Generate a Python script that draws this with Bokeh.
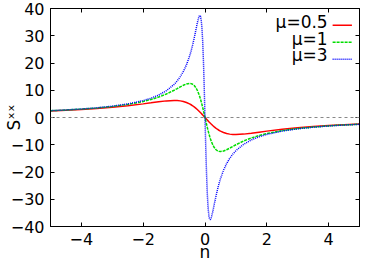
from bokeh.plotting import figure
from bokeh.models import Range1d, FixedTicker, LinearAxis, Span, Label, Arrow
from bokeh.embed import file_html
from bokeh.resources import INLINE

# ---- data ----
n = [-5, -4.5, -4, -3.5, -3, -2.5, -2, -1.75, -1.5, -1.25, -1, -0.9, -0.8, -0.7, -0.6,
     -0.5, -0.45, -0.4, -0.35, -0.3, -0.25, -0.2, -0.175, -0.15, -0.125, -0.1, -0.075,
     -0.05, -0.025, 0, 0.025, 0.05, 0.075, 0.1, 0.125, 0.15, 0.175, 0.2, 0.25, 0.3,
     0.35, 0.4, 0.45, 0.5, 0.6, 0.7, 0.8, 0.9, 1, 1.25, 1.5, 1.75, 2, 2.5, 3, 3.5, 4,
     4.5, 5]
s_mu05 = [2.40, 2.65, 2.94, 3.30, 3.75, 4.31, 5.00, 5.38, 5.77, 6.10, 6.25, 6.22, 6.10,
          5.87, 5.51, 5.00, 4.68, 4.31, 3.90, 3.44, 2.94, 2.40, 2.12, 1.83, 1.54, 1.24,
          0.93, 0.62, 0.31, 0, -0.31, -0.62, -0.93, -1.24, -1.54, -1.83, -2.12, -2.40,
          -2.94, -3.44, -3.90, -4.31, -4.68, -5.00, -5.51, -5.87, -6.10, -6.22, -6.25,
          -6.10, -5.77, -5.38, -5.00, -4.31, -3.75, -3.30, -2.94, -2.65, -2.40]
s_mu1 = [2.48, 2.74, 3.08, 3.50, 4.05, 4.81, 5.88, 6.60, 7.50, 8.62, 10.00, 10.61, 11.24,
         11.82, 12.30, 12.50, 12.43, 12.20, 11.74, 11.03, 10.00, 8.62, 7.80, 6.88, 5.88,
         4.81, 3.67, 2.48, 1.25, 0, -1.25, -2.48, -3.67, -4.81, -5.88, -6.88, -7.80,
         -8.62, -10.00, -11.03, -11.74, -12.20, -12.43, -12.50, -12.30, -11.82, -11.24,
         -10.61, -10.00, -8.62, -7.50, -6.60, -5.88, -4.81, -4.05, -3.50, -3.08, -2.74,
         -2.48]
s_mu3 = [2.50, 2.77, 3.12, 3.56, 4.15, 4.98, 6.21, 7.08, 8.23, 9.83, 12.16, 13.43, 14.98,
         16.90, 19.34, 22.50, 24.43, 26.63, 29.11, 31.84, 34.62, 36.89, 37.46, 37.29,
         36.00, 33.09, 28.07, 20.64, 11.00, 0, -11.00, -20.64, -28.07, -33.09, -36.00,
         -37.29, -37.46, -36.89, -34.62, -31.84, -29.11, -26.63, -24.43, -22.50, -19.34,
         -16.90, -14.98, -13.43, -12.16, -9.83, -8.23, -7.08, -6.21, -4.98, -4.15, -3.56,
         -3.12, -2.77, -2.50]
series_labels = ["\u03bc=0.5", "\u03bc=1", "\u03bc=3"]
x_ticks = [-4, -2, 0, 2, 4]
y_ticks = [-40, -30, -20, -10, 0, 10, 20, 30, 40]
x_title = "n"
y_title = "S\u02e3\u02e3"

FONT = "DejaVu Sans"

p = figure(width=366, height=264, output_backend="svg", toolbar_location=None,
           x_range=Range1d(-5, 5), y_range=Range1d(-40, 40))
p.frame_width = 309
p.frame_height = 218
p.min_border_left = 49
p.min_border_right = 8
p.min_border_top = 8
p.min_border_bottom = 38
p.background_fill_color = "white"
p.border_fill_color = "white"
p.outline_line_color = "black"
p.outline_line_width = 1
p.xgrid.visible = False
p.ygrid.visible = False

def style_axis(ax, ticks, show_labels):
    ax.ticker = FixedTicker(ticks=ticks)
    ax.major_tick_in = 4
    ax.major_tick_out = 0
    ax.minor_tick_in = 0
    ax.minor_tick_out = 0
    ax.axis_line_color = "black"
    ax.major_tick_line_color = "black"
    if show_labels:
        ax.major_label_text_font = FONT
        ax.major_label_text_font_size = "16px"
        ax.major_label_text_color = "black"
        ax.axis_label_text_font = FONT
        ax.axis_label_text_font_size = "17px"
        ax.axis_label_text_font_style = "normal"
        ax.axis_label_text_color = "black"
    else:
        ax.major_label_text_font_size = "1px"
        ax.major_label_text_color = None
        ax.major_label_standoff = 0

style_axis(p.xaxis[0], x_ticks, True)
style_axis(p.yaxis[0], y_ticks, True)
p.xaxis[0].major_label_standoff = 6
p.yaxis[0].major_label_standoff = 6
p.xaxis[0].axis_label = x_title
p.xaxis[0].axis_label_standoff = -6
p.yaxis[0].axis_label = y_title
p.yaxis[0].axis_label_standoff = -16

top_ax = LinearAxis()
style_axis(top_ax, x_ticks, False)
p.add_layout(top_ax, "above")
right_ax = LinearAxis()
style_axis(right_ax, y_ticks, False)
p.add_layout(right_ax, "right")

p.add_layout(Span(location=0, dimension="width", line_color="#888888",
                  line_width=1, line_dash="3 3"))

p.line(n, s_mu05, line_color="#ff0000", line_width=1.5)
p.line(n, s_mu1, line_color="#00dd00", line_width=1.5, line_dash="3 1")
p.line(n, s_mu3, line_color="#0000ff", line_width=1.5, line_dash="1 1")

# legend (text right of sample, gnuplot style)
leg_colors = ["#ff0000", "#00dd00", "#0000ff"]
leg_dash = ["solid", "3 1", "1 1"]
leg_line_y = [33.85, 27.62, 21.39]
leg_text_y = [35.0, 28.9, 22.8]
for lab, col, dash, ly, ty in zip(series_labels, leg_colors, leg_dash, leg_line_y, leg_text_y):
    p.add_layout(Label(x=3.97, y=ty, text=lab, text_align="right", text_baseline="middle",
                       text_font=FONT, text_font_size="17px", text_color="black"))
    p.add_layout(Arrow(x_start=4.13, y_start=ly, x_end=4.755, y_end=ly, end=None,
                       line_color=col, line_width=1.5, line_dash=dash))

open("out.html", "w").write(file_html(p, INLINE))
